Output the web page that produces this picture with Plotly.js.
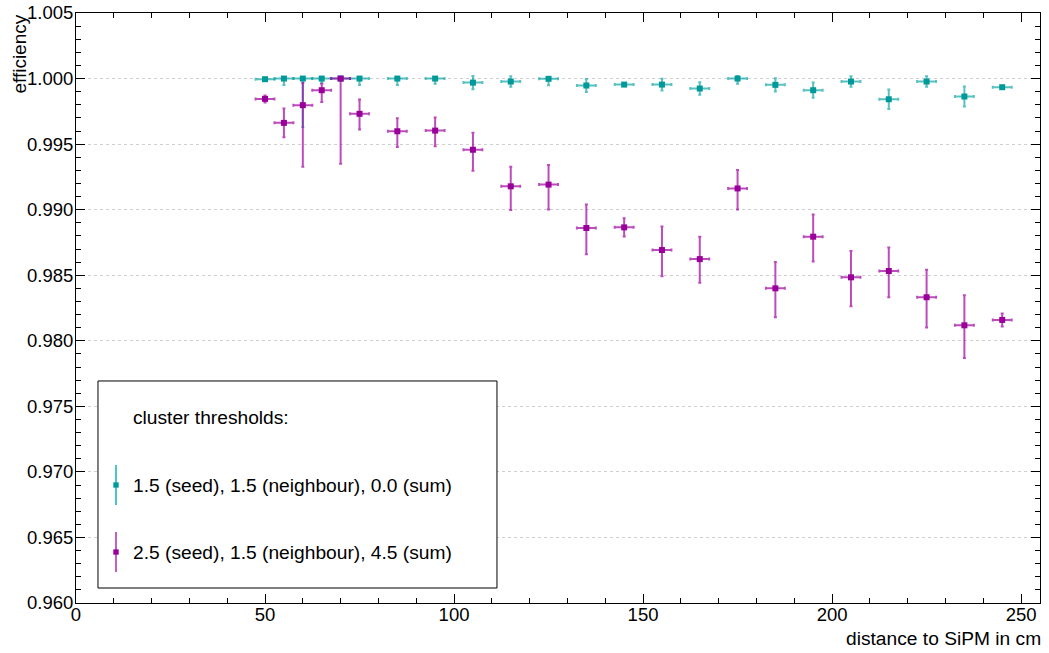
<!DOCTYPE html>
<html>
<head>
<meta charset="utf-8">
<script src="https://cdn.plot.ly/plotly-3.0.1.min.js"></script>
<style>html,body{margin:0;padding:0;background:#fff;}#chart{width:1049px;height:653px;}</style>
</head>
<body>
<div id="chart"></div>
<script>
// distance bins (cm) and half bin width
const distance = [50, 55, 60, 65, 70, 75, 85, 95, 105, 115, 125, 135, 145, 155, 165, 175, 185, 195, 205, 215, 225, 235, 245];
const binHalfWidth = 2.5;

// series 1: 1.5 (seed), 1.5 (neighbour), 0.0 (sum)
const effA = [0.99995, 1.0, 1.0, 1.0, 1.0, 1.0, 1.0, 1.0, 0.99969, 0.99977, 0.99998, 0.99947, 0.99954, 0.99954, 0.99924, 1.0, 0.99952, 0.99911, 0.99977, 0.99842, 0.99977, 0.99863, 0.99934];
const errAUp = [0.00005, 0, 0, 0, 0, 0, 0, 0, 0.0005, 0.0004, 0.0001, 0.0005, 0.0001, 0.00045, 0.00048, 0.0002, 0.0005, 0.00058, 0.0004, 0.00074, 0.0004, 0.00076, 0.0001];
const errADown = [0.0001, 0.0005, 0.0037, 0.0003, 0, 0.0005, 0.0005, 0.0004, 0.0005, 0.0004, 0.0005, 0.0005, 0.0001, 0.00045, 0.00048, 0.0004, 0.0005, 0.00058, 0.0004, 0.00074, 0.0004, 0.00076, 0.0001];

// series 2: 2.5 (seed), 1.5 (neighbour), 4.5 (sum)
const effB = [0.99845, 0.99662, 0.99797, 0.99911, 1.0, 0.99731, 0.99598, 0.99603, 0.99457, 0.99178, 0.99191, 0.98860, 0.98865, 0.98692, 0.98623, 0.99162, 0.98400, 0.98794, 0.98484, 0.98532, 0.98332, 0.98118, 0.98159];
const errBUp = [0.00025, 0.0011, 0.0017, 0.0005, 0, 0.0011, 0.0010, 0.0010, 0.0013, 0.0015, 0.0015, 0.0018, 0.0007, 0.0018, 0.0017, 0.0014, 0.0020, 0.0017, 0.0020, 0.0018, 0.0021, 0.0023, 0.0005];
const errBDown = [0.00027, 0.0011, 0.0047, 0.0009, 0.0065, 0.0012, 0.0012, 0.0012, 0.0016, 0.0018, 0.0019, 0.0020, 0.0007, 0.0020, 0.0018, 0.0016, 0.0022, 0.0019, 0.0022, 0.0020, 0.0023, 0.0025, 0.0005];

const legendTitle = "cluster thresholds:";
const labelA = "1.5 (seed), 1.5 (neighbour), 0.0 (sum)";
const labelB = "2.5 (seed), 1.5 (neighbour), 4.5 (sum)";

const colA = "#009999", colAbar = "rgba(0,160,160,0.65)";
const colB = "#990099", colBbar = "rgba(160,0,160,0.7)";
const FONT = "Liberation Sans, Arial, Helvetica, sans-serif";

function trace(y, up, down, name, col, barCol) {
  return {
    type: "scatter", mode: "markers", name: name,
    x: distance, y: y,
    marker: {symbol: "square", size: 6, color: col},
    error_x: {type: "constant", value: binHalfWidth, thickness: 2, width: 1.5, color: barCol},
    error_y: {type: "data", symmetric: false, array: up, arrayminus: down, thickness: 2, width: 1.5, color: barCol},
    hoverinfo: "x+y"
  };
}

const data = [
  trace(effA, errAUp, errADown, labelA, colA, colAbar),
  trace(effB, errBUp, errBDown, labelB, colB, colBbar)
];

// legend box geometry in paper coordinates
const L = {x0: 0.0228, x1: 0.4367, y0: 0.0254, y1: 0.3763, tx: 0.0570, sx: 0.0415};
const entries = [
  {y: 0.200, label: labelA, col: colA, bar: "rgba(60,190,190,0.9)"},
  {y: 0.0864, label: labelB, col: colB, bar: "rgba(190,80,190,0.9)"}
];

const TXT = 19.2;
const shapes = [
  {type: "rect", xref: "paper", yref: "paper", x0: L.x0, x1: L.x1, y0: L.y0, y1: L.y1,
   line: {color: "black", width: 1}, fillcolor: "white", layer: "above"}
];
const annotations = [
  {xref: "paper", yref: "paper", x: L.tx, y: 0.3136, xanchor: "left", yanchor: "middle",
   text: legendTitle, showarrow: false, font: {family: FONT, size: TXT, color: "black"}},
  {xref: "paper", yref: "paper", x: -0.059, y: 1.0, xanchor: "center", yanchor: "top",
   text: "efficiency", textangle: -90, showarrow: false, font: {family: FONT, size: 19, color: "black"}},
  {xref: "paper", yref: "paper", x: 1.003, y: -0.061, xanchor: "right", yanchor: "middle",
   text: "distance to SiPM in cm", showarrow: false, font: {family: FONT, size: TXT, color: "black"}}
];
entries.forEach(e => {
  shapes.push({type: "line", xref: "paper", yref: "paper", x0: L.sx, x1: L.sx, y0: e.y - 0.034, y1: e.y + 0.034,
    line: {color: e.bar, width: 2}, layer: "above"});
  shapes.push({type: "rect", xref: "paper", yref: "paper", x0: L.sx - 0.0028, x1: L.sx + 0.0028, y0: e.y - 0.0045, y1: e.y + 0.0045,
    line: {width: 0}, fillcolor: e.col, layer: "above"});
  annotations.push({xref: "paper", yref: "paper", x: L.tx, y: e.y, xanchor: "left", yanchor: "middle",
    text: e.label, showarrow: false, font: {family: FONT, size: TXT, color: "black"}});
});

const layout = {
  width: 1049, height: 653,
  margin: {l: 76, r: 9, t: 13, b: 50, pad: 0},
  paper_bgcolor: "white", plot_bgcolor: "white",
  showlegend: false,
  font: {family: FONT, size: 18, color: "black"},
  xaxis: {
    range: [0, 255], dtick: 50, tick0: 0, showgrid: false, zeroline: false,
    showline: true, linecolor: "black", linewidth: 1, mirror: "ticks",
    ticks: "inside", ticklen: 9, tickcolor: "black", tickwidth: 1, ticklabelstandoff: -5,
    minor: {dtick: 10, ticks: "inside", ticklen: 5, tickcolor: "black", showgrid: false},
    tickfont: {family: FONT, size: 18.5, color: "black"}
  },
  yaxis: {
    range: [0.960, 1.005], dtick: 0.005, tick0: 0.960, tickformat: ".3f",
    showgrid: true, gridcolor: "#cfcfcf", griddash: "dot", gridwidth: 1, zeroline: false,
    showline: true, linecolor: "black", linewidth: 1, mirror: "ticks",
    ticks: "inside", ticklen: 9, tickcolor: "black", tickwidth: 1, ticklabelstandoff: -2,
    minor: {dtick: 0.001, ticks: "inside", ticklen: 5, tickcolor: "black", showgrid: false},
    tickfont: {family: FONT, size: 18.5, color: "black"}
  },
  shapes: shapes,
  annotations: annotations
};

Plotly.newPlot("chart", data, layout, {displayModeBar: false, staticPlot: true});
</script>
</body>
</html>
